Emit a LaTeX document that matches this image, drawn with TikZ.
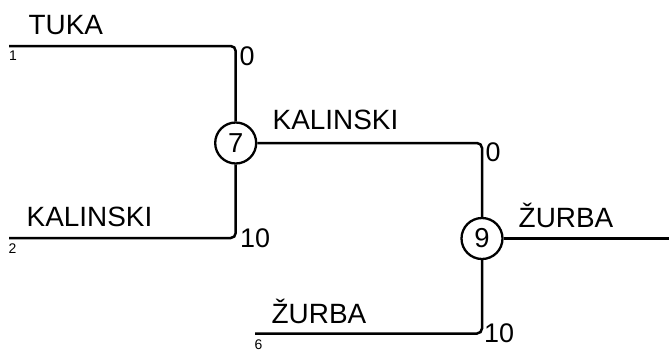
\documentclass[tikz,border=0pt]{standalone}
\usepackage{fontspec}
\setmainfont{Liberation Sans}
\begin{document}
\begin{tikzpicture}[x=1bp,y=-1bp,
  wire/.style={line width=2.5bp,rounded corners=5bp},
  matchnode/.style={circle,draw,line width=2.3bp,minimum size=41bp,inner sep=0pt,font=\fontsize{27.5}{30}\selectfont},
  playername/.style={anchor=base west,inner sep=0pt,font=\fontsize{28}{30}\selectfont},
  scorelabel/.style={anchor=base west,inner sep=0pt,font=\fontsize{27}{30}\selectfont},
  seedlabel/.style={anchor=base west,inner sep=0pt,font=\fontsize{14}{16}\selectfont}]
\useasboundingbox (0,0) rectangle (669,349);
% matches
\node[matchnode] (c7) at (235.7,143) {7};
\node[matchnode] (c9) at (482,238.5) {9};
% free ends
\coordinate (s1) at (9,46);
\coordinate (s2) at (9,238);
\coordinate (s6) at (255,333.5);
\coordinate (e) at (669,238.5);
% wires
\draw[wire] (s1) -| (c7);
\draw[wire] (s2) -| (c7);
\draw[wire] (c7) -| (c9);
\draw[wire] (s6) -| (c9);
\draw[wire] (c9) -- (e);
% names
\node[playername] (n1) at (28.5,34) {TUKA};
\node[playername] (n2) at (26.5,226.7) {KALINSKI};
\node[playername] (n3) at (272.5,129.5) {KALINSKI};
\node[playername] (n4) at (518.5,227) {ŽURBA};
\node[playername] (n5) at (271.5,323.3) {ŽURBA};
% scores
\node[scorelabel] (p1) at (239.5,65) {0};
\node[scorelabel] (p2) at (240,247) {10};
\node[scorelabel] (p3) at (485.5,161.7) {0};
\node[scorelabel] (p4) at (484,342.5) {10};
% seeds
\node[seedlabel] (q1) at (9,60.5) {1};
\node[seedlabel] (q2) at (8.5,253.5) {2};
\node[seedlabel] (q6) at (254.5,349.5) {6};
\end{tikzpicture}
\end{document}
